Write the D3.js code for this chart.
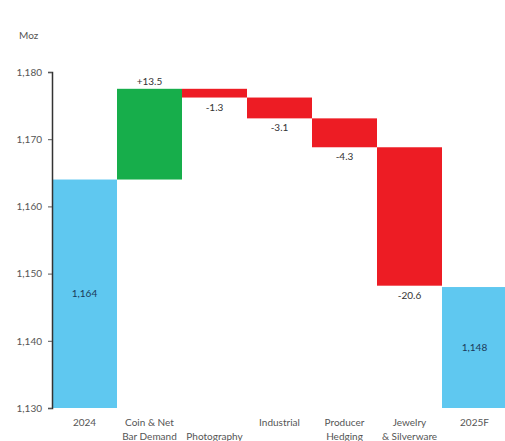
<!DOCTYPE html>
<html>
<head>
<meta charset="utf-8">
<script src="https://cdn.jsdelivr.net/npm/d3@7"></script>
<style>
  body { margin: 0; background: #fff; overflow: hidden; }
  text { font-family: Lato, "Open Sans", sans-serif; }
</style>
</head>
<body>
<script>
// data
const categories = ["2024", "Coin & Net|Bar Demand", "|Photography", "Industrial", "Producer|Hedging", "Jewelry|& Silverware", "2025F"];
const changes = [1164, 13.5, -1.3, -3.1, -4.3, -20.6, 1148];
const kinds = ["total", "delta", "delta", "delta", "delta", "delta", "total"];
const valueLabels = ["1,164", "+13.5", "-1.3", "-3.1", "-4.3", "-20.6", "1,148"];
const yTicks = [1130, 1140, 1150, 1160, 1170, 1180];

const margin = { top: 72, right: -2, bottom: 33, left: 52 };
const W = 505, H = 441;
const w = W - margin.left - margin.right;
const h = H - margin.top - margin.bottom;

const colors = { total: "#5fc8f0", up: "#17ae4b", down: "#ed1c24" };

// build waterfall steps
let running = 0;
const steps = changes.map((v, i) => {
    let start, end;
    if (kinds[i] === "total") { start = 1130; end = v; running = v; }
    else { start = running; end = running + v; running = end; }
    return { cat: categories[i], start, end, v, kind: kinds[i], label: valueLabels[i] };
});

const svg = d3.select("body").append("svg")
    .attr("width", W)
    .attr("height", H)
    .append("g")
    .attr("transform", "translate(" + margin.left + "," + margin.top + ")");

const x = d3.scaleBand().domain(categories).range([0, w]).padding(0);
const y = d3.scaleLinear().domain([1130, 1180]).range([h, 0]);

svg.selectAll("rect.bar")
    .data(steps)
    .enter().append("rect")
    .attr("class", "bar")
    .attr("x", d => x(d.cat))
    .attr("width", x.bandwidth())
    .attr("y", d => y(Math.max(d.start, d.end)))
    .attr("height", d => Math.abs(y(d.start) - y(d.end)))
    .attr("fill", d => d.kind === "total" ? colors.total : (d.v > 0 ? colors.up : colors.down));

// value labels
svg.selectAll("text.val")
    .data(steps)
    .enter().append("text")
    .attr("class", "val")
    .attr("x", d => x(d.cat) + x.bandwidth() / 2)
    .attr("y", d => {
        if (d.kind === "total") return y((d.start + d.end) / 2) + 3;
        if (d.v > 0) return y(d.end) - 4;
        return y(d.end) + 13;
    })
    .attr("text-anchor", "middle")
    .style("font-size", "10px")
    .style("fill", d => d.kind === "total" ? "#1b3a5a" : "#333")
    .text(d => d.label);

// y axis
const yAxis = d3.axisLeft(y).tickValues(yTicks).tickFormat(d3.format(",")).tickSize(4).tickPadding(6);
const ya = svg.append("g").call(yAxis);
ya.select(".domain").attr("stroke", "#333").attr("stroke-width", 1.5);
ya.selectAll(".tick line").attr("stroke", "#555");
ya.selectAll(".tick text").style("font-size", "10px").style("fill", "#555")
    .style("font-family", "Lato, sans-serif");

// category labels (two lines)
const catG = svg.selectAll("g.cat")
    .data(categories)
    .enter().append("text")
    .attr("class", "cat")
    .attr("text-anchor", "middle")
    .attr("x", d => x(d) + x.bandwidth() / 2)
    .attr("y", h + 18)
    .style("font-size", "10px")
    .style("fill", "#555");
catG.each(function(d) {
    const parts = d.split("|");
    const t = d3.select(this);
    parts.forEach((p, i) => {
        t.append("tspan")
            .attr("x", x(d) + x.bandwidth() / 2)
            .attr("dy", i === 0 ? 0 : 14)
            .text(p);
    });
});

// unit label
svg.append("text")
    .attr("x", -33)
    .attr("y", -33)
    .style("font-size", "10px")
    .style("fill", "#555")
    .text("Moz");
</script>
</body>
</html>
